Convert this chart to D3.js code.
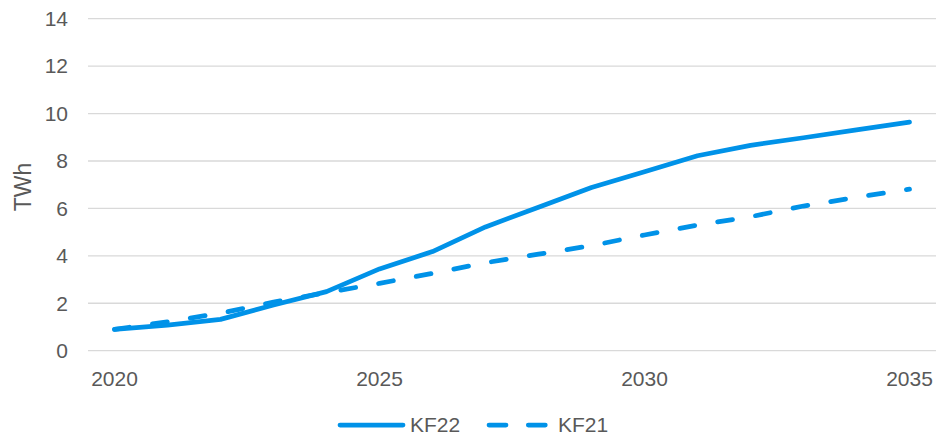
<!DOCTYPE html>
<html>
<head>
<meta charset="utf-8">
<script src="https://cdn.jsdelivr.net/npm/d3@7"></script>
<style>
  body { margin: 0; background: #fff; }
  text { font-family: "Liberation Sans", Arial, sans-serif; fill: #595959; }
</style>
</head>
<body>
<script>
// data
const years = d3.range(2020, 2036);
const kf22 = [0.90, 1.08, 1.32, 1.93, 2.49, 3.45, 4.18, 5.22, 6.05, 6.88, 7.55, 8.22, 8.66, 8.98, 9.31, 9.64];
const kf21 = [0.90, 1.22, 1.58, 2.05, 2.45, 2.84, 3.26, 3.71, 4.07, 4.43, 4.88, 5.30, 5.65, 6.10, 6.47, 6.81];
const yTicks = [0, 2, 4, 6, 8, 10, 12, 14];
const xLabels = [2020, 2025, 2030, 2035];

const width = 936, height = 436;
const margin = { top: 18.7, right: 0, bottom: 85.3, left: 88 };

const svg = d3.select("body").append("svg")
  .attr("width", width)
  .attr("height", height);

const x = d3.scaleBand()
  .domain(years)
  .range([margin.left, width - margin.right]);

const y = d3.scaleLinear()
  .domain([0, 14])
  .range([height - margin.bottom, margin.top]);

const cx = d => x(d) + x.bandwidth() / 2;

// gridlines
svg.append("g")
  .selectAll("line")
  .data(yTicks)
  .enter()
  .append("line")
  .attr("x1", margin.left)
  .attr("x2", width - margin.right)
  .attr("y1", d => y(d))
  .attr("y2", d => y(d))
  .attr("stroke", "#d9d9d9")
  .attr("stroke-width", 1.3);

// y tick labels
svg.append("g")
  .selectAll("text")
  .data(yTicks)
  .enter()
  .append("text")
  .attr("x", 68)
  .attr("y", d => y(d))
  .attr("dy", "0.35em")
  .attr("text-anchor", "end")
  .attr("font-size", "21px")
  .text(d => d);

// x labels
svg.append("g")
  .selectAll("text")
  .data(xLabels)
  .enter()
  .append("text")
  .attr("x", d => cx(d))
  .attr("y", 386)
  .attr("text-anchor", "middle")
  .attr("font-size", "21px")
  .text(d => d);

// y axis title
svg.append("text")
  .attr("transform", "translate(31,187) rotate(-90)")
  .attr("text-anchor", "middle")
  .attr("font-size", "23px")
  .text("TWh");

const line = d3.line()
  .x((d, i) => cx(years[i]))
  .y(d => y(d));

const blue = "#0092e8";

svg.append("path")
  .attr("d", line(kf21))
  .attr("fill", "none")
  .attr("stroke", blue)
  .attr("stroke-width", 4.75)
  .attr("stroke-linecap", "round")
  .attr("stroke-dasharray", "15,23.3");

svg.append("path")
  .attr("d", line(kf22))
  .attr("fill", "none")
  .attr("stroke", blue)
  .attr("stroke-width", 4.75)
  .attr("stroke-linecap", "round")
  .attr("stroke-linejoin", "round");

// legend
const legend = svg.append("g");
legend.append("line")
  .attr("x1", 340).attr("x2", 403)
  .attr("y1", 425).attr("y2", 425)
  .attr("stroke", blue)
  .attr("stroke-width", 4.75)
  .attr("stroke-linecap", "round");
legend.append("text")
  .attr("x", 410).attr("y", 425)
  .attr("dy", "0.35em")
  .attr("font-size", "21px")
  .text("KF22");
legend.append("line")
  .attr("x1", 489).attr("x2", 545.5)
  .attr("y1", 425).attr("y2", 425)
  .attr("stroke", blue)
  .attr("stroke-width", 4.75)
  .attr("stroke-linecap", "round")
  .attr("stroke-dasharray", "17,22.3");
legend.append("text")
  .attr("x", 558).attr("y", 425)
  .attr("dy", "0.35em")
  .attr("font-size", "21px")
  .text("KF21");
</script>
</body>
</html>
